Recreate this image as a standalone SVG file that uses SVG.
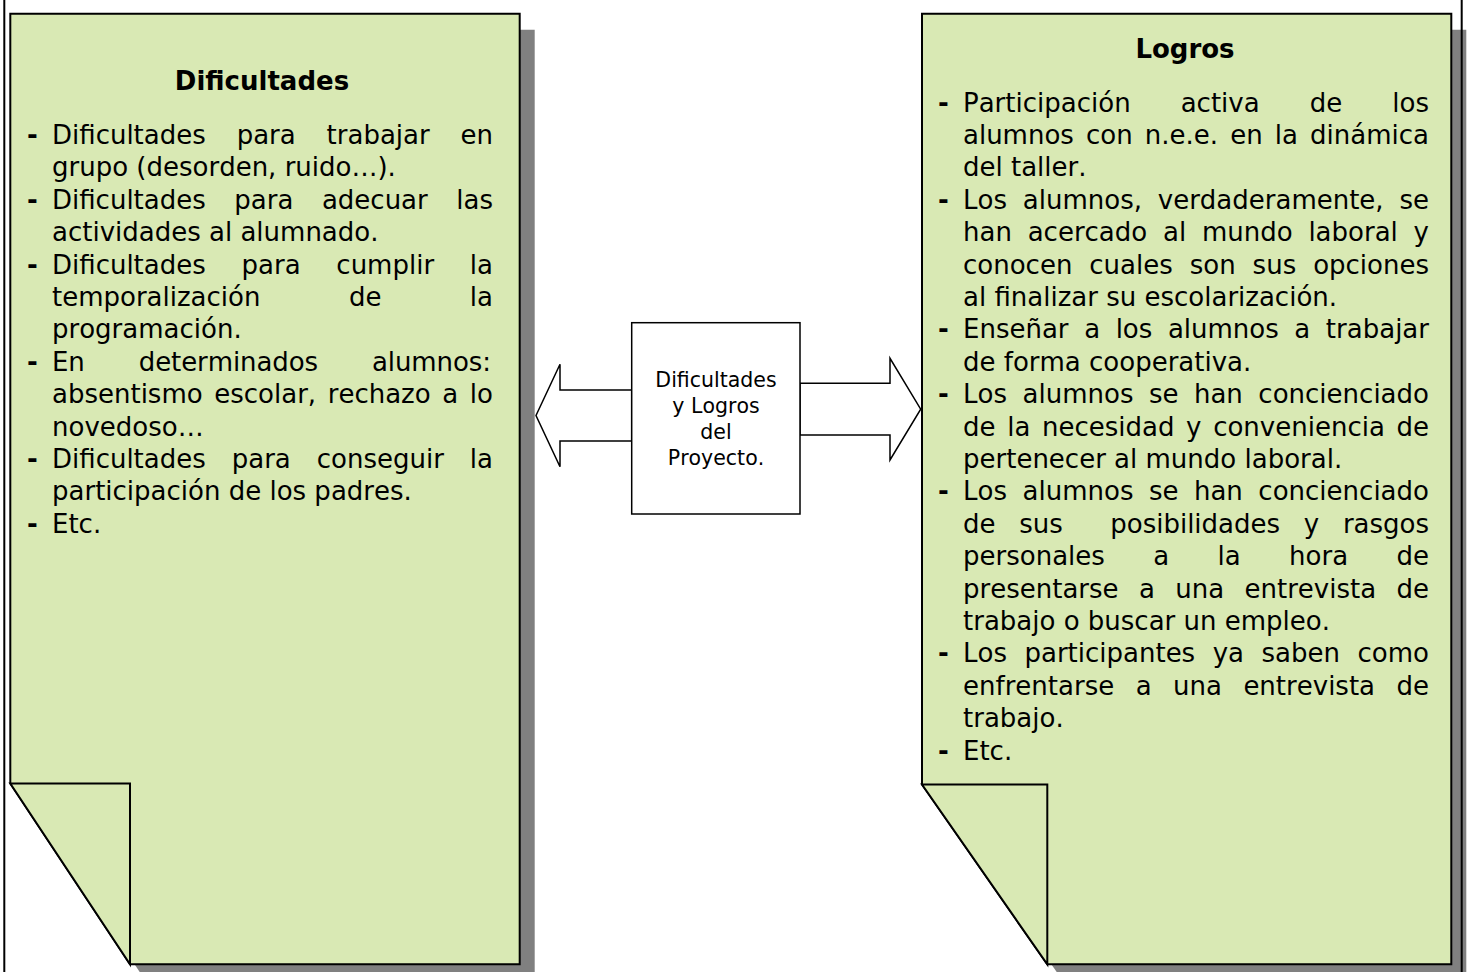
<svg xmlns="http://www.w3.org/2000/svg" width="1469" height="972" viewBox="0 0 1469 972">
<style>
.page{fill:#D9E9B4;stroke:#000;stroke-width:2;stroke-linejoin:miter}
.shadow{fill:#808080}
.frame{stroke:#000;stroke-width:2}
.t{font-family:"DejaVu Sans",Verdana,sans-serif;font-size:26px;fill:#000;font-kerning:none}
.h{font-weight:bold;text-anchor:middle}
.b{font-weight:bold}
.c{font-size:20.5px;text-anchor:middle}
.arrow{fill:#fff;stroke:#000;stroke-width:1.5;stroke-linejoin:miter}
.box{fill:#fff;stroke:#000;stroke-width:1.5}
</style>
<rect width="1469" height="972" fill="#fff"/>
<g id="node-dificultades">
<polygon class="shadow" points="25.3,29.7 534.7,29.7 534.7,980 145,980 25.3,799.5"/>
<polygon class="page" points="10.3,13.7 519.7,13.7 519.7,964.3 130,964.3 10.3,783.5"/>
<polygon class="page" points="10.3,783.5 130,783.5 130,964.3"/>
<text class="t h" x="262" y="90">Dificultades</text>
<g class="t">
<text class="b" x="27" y="144">-</text>
<text x="52" y="144" word-spacing="22.6" textLength="441" lengthAdjust="spacing">Dificultades para trabajar en</text>
<text x="52" y="176.4">grupo (desorden, ruido…).</text>
<text class="b" x="27" y="208.8">-</text>
<text x="52" y="208.8" word-spacing="20.3" textLength="441" lengthAdjust="spacing">Dificultades para adecuar las</text>
<text x="52" y="241.2">actividades al alumnado.</text>
<text class="b" x="27" y="273.6">-</text>
<text x="52" y="273.6" word-spacing="27.5" textLength="441" lengthAdjust="spacing">Dificultades para cumplir la</text>
<text x="52" y="306" word-spacing="80.2" textLength="441" lengthAdjust="spacing">temporalización de la</text>
<text x="52" y="338.4">programación.</text>
<text class="b" x="27" y="370.8">-</text>
<text x="52" y="370.8" word-spacing="45.8" textLength="439" lengthAdjust="spacing">En determinados alumnos:</text>
<text x="52" y="403.2" word-spacing="3.35" textLength="441" lengthAdjust="spacing">absentismo escolar, rechazo a lo</text>
<text x="52" y="435.6">novedoso…</text>
<text class="b" x="27" y="468">-</text>
<text x="52" y="468" word-spacing="17.7" textLength="441" lengthAdjust="spacing">Dificultades para conseguir la</text>
<text x="52" y="500.4">participación de los padres.</text>
<text class="b" x="27" y="532.8">-</text>
<text x="52" y="532.8">Etc.</text>
</g>
</g>
<g id="node-logros">
<polygon class="shadow" points="937,29.7 1466.3,29.7 1466.3,980 1062.3,980 937,800.5"/>
<polygon class="page" points="922,13.7 1451.3,13.7 1451.3,964.3 1047.3,964.3 922,784.5"/>
<polygon class="page" points="922,784.5 1047.3,784.5 1047.3,964.3"/>
<text class="t h" x="1185" y="57.6">Logros</text>
<g class="t">
<text class="b" x="938" y="111.6">-</text>
<text x="963" y="111.6" word-spacing="41.8" textLength="466" lengthAdjust="spacing">Participación activa de los</text>
<text x="963" y="144" word-spacing="3.9" textLength="466" lengthAdjust="spacing">alumnos con n.e.e. en la dinámica</text>
<text x="963" y="176.4">del taller.</text>
<text class="b" x="938" y="208.8">-</text>
<text x="963" y="208.8" word-spacing="7.6" textLength="466" lengthAdjust="spacing">Los alumnos, verdaderamente, se</text>
<text x="963" y="241.2" word-spacing="7.5" textLength="466" lengthAdjust="spacing">han acercado al mundo laboral y</text>
<text x="963" y="273.6" word-spacing="8.7" textLength="466" lengthAdjust="spacing">conocen cuales son sus opciones</text>
<text x="963" y="306">al finalizar su escolarización.</text>
<text class="b" x="938" y="338.4">-</text>
<text x="963" y="338.4" word-spacing="7.3" textLength="466" lengthAdjust="spacing">Enseñar a los alumnos a trabajar</text>
<text x="963" y="370.8">de forma cooperativa.</text>
<text class="b" x="938" y="403.2">-</text>
<text x="963" y="403.2" word-spacing="7.2" textLength="466" lengthAdjust="spacing">Los alumnos se han concienciado</text>
<text x="963" y="435.6" word-spacing="3.4" textLength="466" lengthAdjust="spacing">de la necesidad y conveniencia de</text>
<text x="963" y="468">pertenecer al mundo laboral.</text>
<text class="b" x="938" y="500.4">-</text>
<text x="963" y="500.4" word-spacing="7.2" textLength="466" lengthAdjust="spacing">Los alumnos se han concienciado</text>
<text x="963" y="532.8" word-spacing="15.5" textLength="466" lengthAdjust="spacing" style="white-space:pre">de sus  posibilidades y rasgos</text>
<text x="963" y="565.2" word-spacing="40.1" textLength="466" lengthAdjust="spacing">personales a la hora de</text>
<text x="963" y="597.6" word-spacing="12.1" textLength="466" lengthAdjust="spacing">presentarse a una entrevista de</text>
<text x="963" y="630">trabajo o buscar un empleo.</text>
<text class="b" x="938" y="662.4">-</text>
<text x="963" y="662.4" word-spacing="9.3" textLength="466" lengthAdjust="spacing">Los participantes ya saben como</text>
<text x="963" y="694.8" word-spacing="13.2" textLength="466" lengthAdjust="spacing">enfrentarse a una entrevista de</text>
<text x="963" y="727.2">trabajo.</text>
<text class="b" x="938" y="759.6">-</text>
<text x="963" y="759.6">Etc.</text>
</g>
</g>
<g id="connectors">
<polygon class="arrow" points="536,415.5 560,364.3 560,390 631.7,390 631.7,441 560,441 560,466.7"/>
<polygon class="arrow" points="800,383.3 890,383.3 890,358.3 920.7,409.2 890,460 890,435 800,435"/>
</g>
<g id="node-center">
<rect class="box" x="631.7" y="322.7" width="168.3" height="191.3"/>
<g class="t c">
<text x="716" y="387">Dificultades</text>
<text x="716" y="413">y Logros</text>
<text x="716" y="439">del</text>
<text x="716" y="465">Proyecto.</text>
</g>
</g>
<g id="page-frame">
<line class="frame" x1="4.3" y1="0" x2="4.3" y2="972"/>
<line class="frame" x1="1461.7" y1="0" x2="1461.7" y2="972"/>
</g>
</svg>
